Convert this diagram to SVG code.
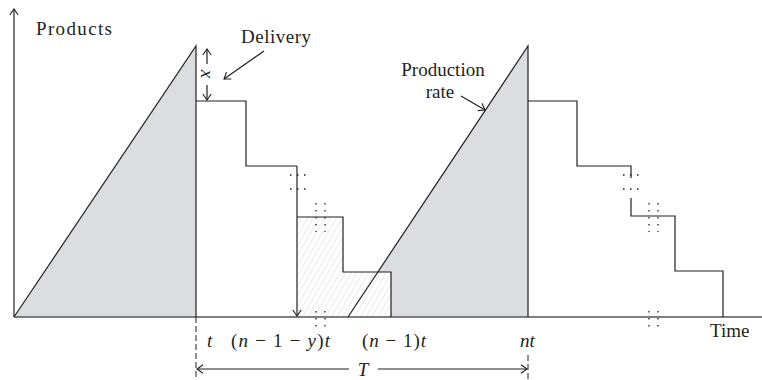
<svg xmlns="http://www.w3.org/2000/svg" width="762" height="380" viewBox="0 0 762 380">
<style>
text{font-family:"Liberation Serif","Times New Roman",serif;font-size:19px;fill:#231f20}
.it{font-style:italic}
.ln{fill:none;stroke:#231f20;stroke-width:1.2}
.gray{fill:#dcdde0;stroke:none}
.dot{fill:none;stroke:#231f20;stroke-width:1.3;stroke-dasharray:1.5 5.5}
.dash{fill:none;stroke:#231f20;stroke-width:1;stroke-dasharray:6 3}
</style>
<defs>
<marker id="arr" viewBox="-8 -5 9 10" refX="0" refY="0" markerWidth="9" markerHeight="10" markerUnits="userSpaceOnUse" orient="auto-start-reverse">
<path d="M-6,-4.2 L0,0 L-6,4.2" fill="none" stroke="#231f20" stroke-width="1.1"/>
</marker>
<pattern id="hatch" patternUnits="userSpaceOnUse" width="5" height="10" patternTransform="rotate(30)">
<line x1="0" y1="0" x2="0" y2="10" stroke="#b8b8b8" stroke-width="0.6"/>
</pattern>
</defs>

<g id="fills">
<polygon class="gray" points="14,317 196,46 196,317"/>
<polygon class="gray" points="348,317 528,46 528,317"/>
<polygon fill="#fff" points="297,217 343,217 343,272 391,272 391,317 297,317"/>
<polygon fill="url(#hatch)" points="297,217 343,217 343,272 391,272 391,317 297,317"/>
</g>

<g id="axes">
<line x1="14" y1="317" x2="762" y2="317" stroke="#555" stroke-width="1.6"/>
<line class="ln" x1="14" y1="317" x2="14" y2="9" marker-end="url(#arr)"/>
<text x="36" y="35" font-size="20" textLength="76" lengthAdjust="spacing">Products</text>
<text x="710" y="337">Time</text>
</g>

<g id="cycle1">
<path class="ln" d="M14,317 L196,46 V317"/>
<path class="ln" d="M196,101 H246 V166 H297"/>
<line class="ln" x1="297" y1="166" x2="297" y2="316" marker-end="url(#arr)"/>
<line class="dot" x1="290" y1="175" x2="306" y2="175"/>
<line class="dot" x1="290" y1="189" x2="306" y2="189"/>
<line class="dot" x1="316" y1="203" x2="316" y2="232"/>
<line class="dot" x1="325" y1="203" x2="325" y2="232"/>
<path class="ln" d="M297,217 H343 V272 H391 V317"/>
<line class="dot" x1="316" y1="311" x2="316" y2="327"/>
<line class="dot" x1="325" y1="311" x2="325" y2="327"/>
</g>

<g id="cycle2">
<path class="ln" d="M348,317 L528,46 V317"/>
<path class="ln" d="M528,101 H577 V166 H631 V178"/>
<path class="ln" d="M631,198 V216 H675 V271 H723 V317"/>
<line class="dot" x1="623" y1="175" x2="639" y2="175"/>
<line class="dot" x1="623" y1="189" x2="639" y2="189"/>
<line class="dot" x1="649" y1="203" x2="649" y2="232"/>
<line class="dot" x1="658" y1="203" x2="658" y2="232"/>
<line class="dot" x1="649" y1="311" x2="649" y2="327"/>
<line class="dot" x1="658" y1="311" x2="658" y2="327"/>
</g>

<g id="delivery">
<line class="ln" x1="207" y1="64" x2="207" y2="49" marker-end="url(#arr)"/>
<line class="ln" x1="207" y1="85" x2="207" y2="100" marker-end="url(#arr)"/>
<text class="it" x="207" y="74" font-size="20" text-anchor="middle" dominant-baseline="central" transform="rotate(90 207 74)">x</text>
<text x="241" y="43" letter-spacing="0.5">Delivery</text>
<line class="ln" x1="264" y1="51" x2="224" y2="79" marker-end="url(#arr)"/>
</g>

<g id="production">
<text x="443" y="76" text-anchor="middle">Production</text>
<text x="440" y="98" text-anchor="middle">rate</text>
<line class="ln" x1="461" y1="96" x2="485" y2="110" marker-end="url(#arr)"/>
</g>

<g id="timeline">
<line class="dash" x1="196" y1="317" x2="196" y2="379"/>
<line class="dash" x1="528" y1="355" x2="528" y2="379"/>
<line class="ln" x1="349" y1="369" x2="197" y2="369" marker-end="url(#arr)"/>
<line class="ln" x1="378" y1="369" x2="527" y2="369" marker-end="url(#arr)"/>
<text class="it" x="363" y="376" text-anchor="middle">T</text>
<text class="it" x="207" y="347">t</text>
<text x="231" y="347" textLength="99" lengthAdjust="spacing">(<tspan class="it">n</tspan> − 1 − <tspan class="it">y</tspan>)<tspan class="it">t</tspan></text>
<text x="362" y="347" textLength="64" lengthAdjust="spacing">(<tspan class="it">n</tspan> − 1)<tspan class="it">t</tspan></text>
<text class="it" x="520" y="347">nt</text>
</g>
</svg>
